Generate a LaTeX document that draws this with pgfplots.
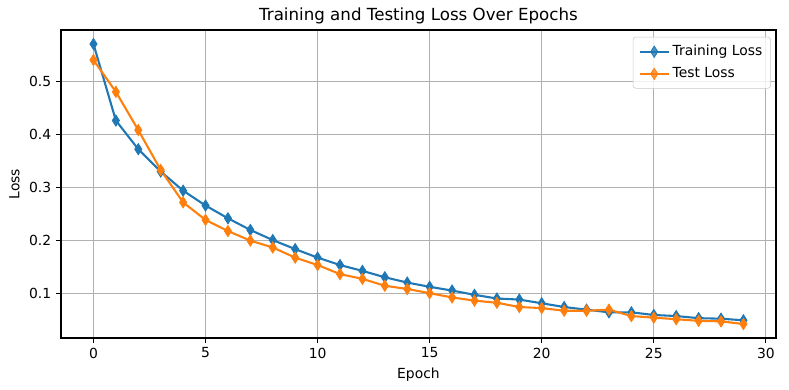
\documentclass[border=0pt]{standalone}
\usepackage{pgfplots}
\pgfplotsset{compat=1.18}
\usepackage{fontspec}
\setmainfont{DejaVu Sans}
\definecolor{c0}{HTML}{1F77B4}
\definecolor{c1}{HTML}{FF7F0E}
\definecolor{gridc}{HTML}{B0B0B0}
\begin{document}
\begin{tikzpicture}
\begin{axis}[
  at={(0,0)}, anchor=south west,
  scale only axis, width=514.8pt, height=221.8pt,
  xmin=-1.45, xmax=30.45, ymin=0.0166, ymax=0.5964,
  xtick={0,5,...,30}, ytick={0.1,0.2,0.3,0.4,0.5},
  yticklabel style={/pgf/number format/.cd, fixed, precision=1, fixed zerofill},
  /pgf/number format/assume math mode=true,
  tick label style={font=\fontsize{10}{12}\selectfont},
  label style={font=\fontsize{10}{12}\selectfont},
  title style={font=\fontsize{12}{14}\selectfont, yshift=-5pt},
  title={Training and Testing Loss Over Epochs},
  xlabel={Epoch}, ylabel={Loss},
  grid=major, major grid style={gridc, line width=0.8pt},
  axis line style={line width=0.8pt},
  tick style={black, line width=0.8pt},
  tick align=outside, tickpos=left, major tick length=3.5pt,
  legend style={at={(0.993,0.978)}, anchor=north east, font=\fontsize{10}{12}\selectfont,
    draw=gridc!70, rounded corners=2pt, row sep=3pt, inner sep=4pt, fill=white, fill opacity=0.8, text opacity=1},
  legend cell align=left,
  legend image code/.code={\draw[mark repeat=2,mark phase=2] plot coordinates {(0pt,0pt)(10.5pt,0pt)(21pt,0pt)};},
]
\addplot[c0, line width=1.5pt, mark=diamond*, mark size=4.1pt, mark options={xscale=0.85, line width=0.5pt}] coordinates {
(0,0.570)(1,0.426)(2,0.372)(3,0.330)(4,0.294)(5,0.266)(6,0.242)(7,0.220)(8,0.201)(9,0.184)
(10,0.168)(11,0.154)(12,0.143)(13,0.131)(14,0.121)(15,0.113)(16,0.106)(17,0.098)(18,0.091)(19,0.089)
(20,0.082)(21,0.075)(22,0.070)(23,0.065)(24,0.065)(25,0.060)(26,0.058)(27,0.054)(28,0.053)(29,0.050)};
\addlegendentry{Training Loss}
\addplot[c1, line width=1.5pt, mark=diamond*, mark size=4.1pt, mark options={xscale=0.85, line width=0.5pt}] coordinates {
(0,0.540)(1,0.480)(2,0.408)(3,0.333)(4,0.272)(5,0.239)(6,0.218)(7,0.200)(8,0.187)(9,0.168)
(10,0.154)(11,0.137)(12,0.128)(13,0.115)(14,0.109)(15,0.101)(16,0.093)(17,0.087)(18,0.083)(19,0.075)
(20,0.073)(21,0.068)(22,0.068)(23,0.070)(24,0.058)(25,0.055)(26,0.052)(27,0.049)(28,0.048)(29,0.043)};
\addlegendentry{Test Loss}
\end{axis}
\path (-43.9pt,-37.4pt) rectangle (524.2pt,243.4pt);
\end{tikzpicture}
\end{document}
